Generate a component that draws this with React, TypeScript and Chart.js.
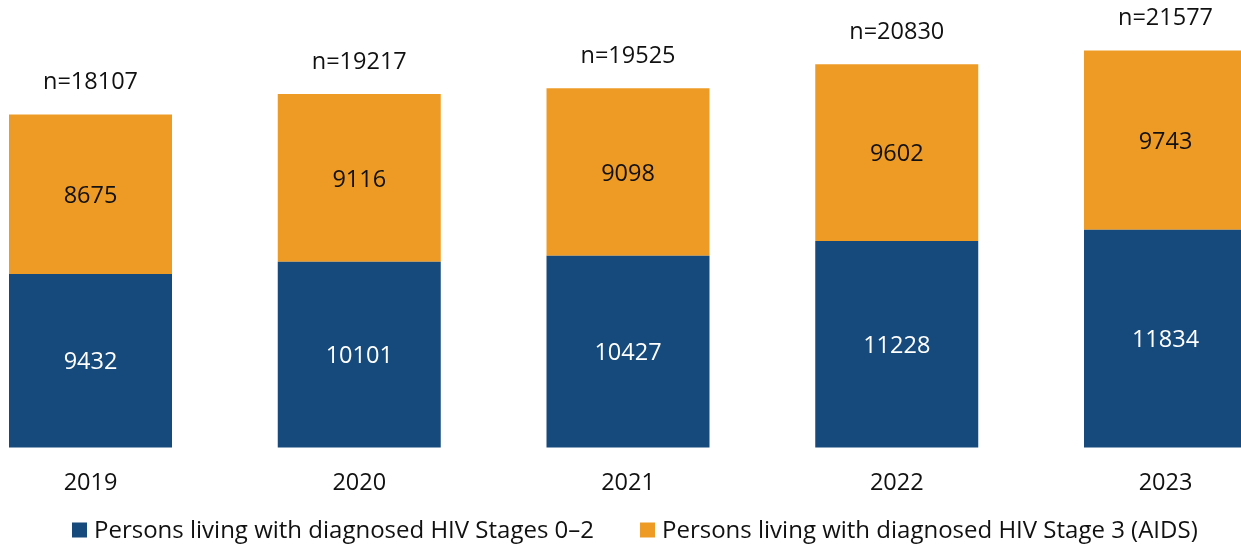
import React, { useEffect, useRef } from "react";
import { Chart, registerables } from "chart.js";

Chart.register(...registerables);

const years = ["2019", "2020", "2021", "2022", "2023"];
const stages02 = [9432, 10101, 10427, 11228, 11834];
const stage3 = [8675, 9116, 9098, 9602, 9743];
const totals = [18107, 19217, 19525, 20830, 21577];
const seriesLabels = [
  "Persons living with diagnosed HIV Stages 0–2",
  "Persons living with diagnosed HIV Stage 3 (AIDS)",
];
const seriesColors = ["#174A7C", "#EE9B26"];

const FONT = '23.5px "Open Sans"';
const LEGEND_FONT = '24px "Open Sans"';
const TEXT = "#111111";

const labelsPlugin = {
  id: "customLabels",
  afterDatasetsDraw(chart: any) {
    const ctx = chart.ctx;
    ctx.save();
    ctx.font = FONT;
    ctx.textAlign = "center";
    ctx.textBaseline = "middle";
    chart.data.datasets.forEach((ds: any, di: number) => {
      const meta = chart.getDatasetMeta(di);
      meta.data.forEach((bar: any, i: number) => {
        const p = bar.getProps(["x", "y", "base"], true);
        ctx.fillStyle = di === 0 ? "#ffffff" : TEXT;
        ctx.fillText(String(ds.data[i]), p.x, (p.y + p.base) / 2 + 2);
      });
    });
    const topMeta = chart.getDatasetMeta(chart.data.datasets.length - 1);
    topMeta.data.forEach((bar: any, i: number) => {
      const p = bar.getProps(["x", "y"], true);
      ctx.fillStyle = TEXT;
      ctx.fillText("n=" + totals[i], p.x, p.y - 32);
    });
    ctx.restore();
  },
  afterDraw(chart: any) {
    const ctx = chart.ctx;
    ctx.save();
    ctx.font = LEGEND_FONT;
    ctx.textAlign = "left";
    ctx.textBaseline = "middle";
    let x = 72;
    const y = 530;
    chart.data.datasets.forEach((ds: any) => {
      ctx.fillStyle = ds.backgroundColor;
      ctx.fillRect(x, y - 7.5, 15, 15);
      ctx.fillStyle = TEXT;
      ctx.fillText(ds.label, x + 22, y + 1);
      x += 22 + ctx.measureText(ds.label).width + 46;
    });
    ctx.restore();
  },
};

export default function App() {
  const ref = useRef<HTMLCanvasElement | null>(null);
  useEffect(() => {
    if (!ref.current) return;
    const chart = new Chart(ref.current, {
      type: "bar",
      data: {
        labels: years,
        datasets: [
          { label: seriesLabels[0], data: stages02, backgroundColor: seriesColors[0], borderWidth: 0, clip: false },
          { label: seriesLabels[1], data: stage3, backgroundColor: seriesColors[1], borderWidth: 0, clip: false },
        ],
      },
      options: {
        responsive: false,
        animation: false,
        layout: { padding: { left: 90.5, right: 75.5, top: 0, bottom: 26.4 } },
        plugins: { legend: { display: false }, tooltip: { enabled: false } },
        datasets: { bar: { categoryPercentage: 0.6065, barPercentage: 1 } },
        scales: {
          x: {
            stacked: true,
            offset: false,
            grid: { display: false, drawTicks: false },
            border: { display: false },
            ticks: { color: TEXT, font: { family: "Open Sans", size: 23.5 }, padding: 22 },
            afterFit: (s: any) => {
              s.paddingLeft = 0;
              s.paddingRight = 0;
            },
          },
          y: { stacked: true, display: false, min: 0, max: 24330 },
        },
      },
      plugins: [labelsPlugin],
    } as any);
    return () => chart.destroy();
  }, []);
  return (
    <div style={{ position: "absolute", left: 0, top: 0, width: 1241, height: 546, background: "#fff" }}>
      <canvas ref={ref} width={1241} height={546} style={{ display: "block" }} />
    </div>
  );
}
